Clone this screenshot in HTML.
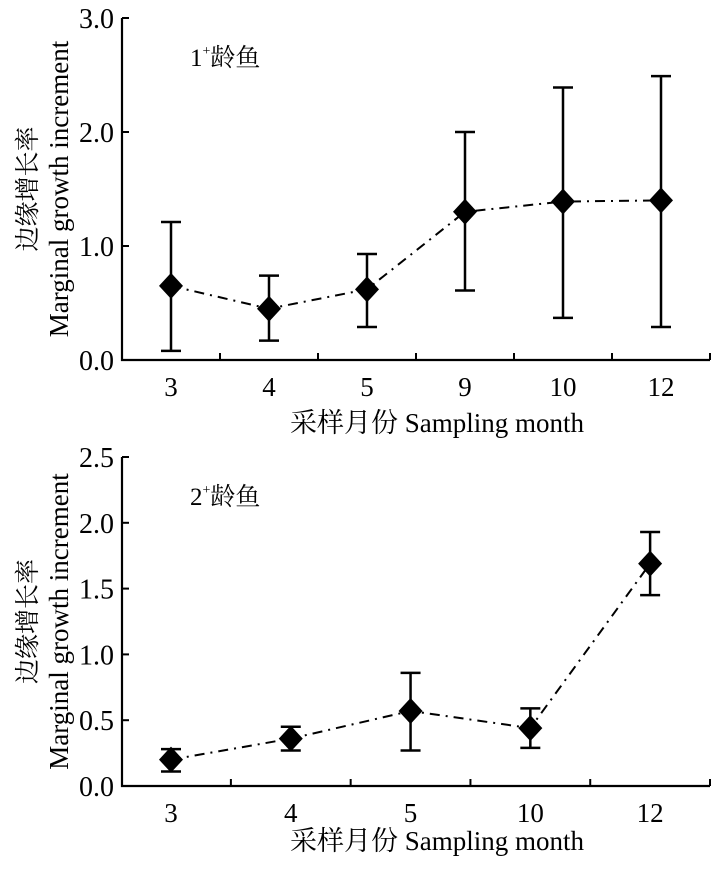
<!DOCTYPE html>
<html><head><meta charset="utf-8">
<style>
body{margin:0;background:#fff;}
svg text{font-family:"Liberation Serif","Noto Serif CJK SC",serif;fill:#000;}
</style></head>
<body>
<svg id="chart" width="720" height="864" xmlns="http://www.w3.org/2000/svg"></svg>
<script>
const cats1 = ["3","4","5","9","10","12"];
const means1 = [0.65,0.45,0.62,1.30,1.39,1.40];
const lows1 = [0.08,0.17,0.29,0.61,0.37,0.29];
const highs1 = [1.21,0.74,0.93,2.00,2.39,2.49];
const yTicks1 = ["0.0","1.0","2.0","3.0"];
const cats2 = ["3","4","5","10","12"];
const means2 = [0.20,0.36,0.57,0.44,1.69];
const lows2 = [0.11,0.27,0.27,0.29,1.45];
const highs2 = [0.28,0.45,0.86,0.59,1.93];
const yTicks2 = ["0.0","0.5","1.0","1.5","2.0","2.5"];

const svg = document.getElementById('chart');
const NS = 'http://www.w3.org/2000/svg';
function mk(tag, attrs, parent){const e=document.createElementNS(NS,tag);for(const k in attrs)e.setAttribute(k,attrs[k]);(parent||svg).appendChild(e);return e;}

function panel(id, cats, means, lows, highs, yTicks, ymax, top, bottom, label, titleOff){
  const g = mk('g',{});
  
  
  const x0=122, x1=710;
  const first=49;
  const step=(x1-x0-first)/(cats.length-0.5);
  const xs=i=>x0+first+step*i;
  const ys=v=>bottom-(v/ymax)*(bottom-top);
  const ax = mk('path',{d:`M${x0} ${top}V${bottom}H${x1}`,stroke:'#000','stroke-width':2.2,fill:'none'},g);
  
  
  yTicks.forEach(t=>{
    const y=ys(parseFloat(t));
    mk('line',{x1:x0,x2:x0+7,y1:y,y2:y,stroke:'#000','stroke-width':2},g);
    const tx=mk('text',{x:x0-8,y:y+10,'text-anchor':'end','font-size':28},g);
    tx.textContent=t;
    
    
  });
  cats.forEach((c,i)=>{
    const xt=xs(i)+step/2;
    mk('line',{x1:xt,x2:xt,y1:bottom,y2:bottom-7,stroke:'#000','stroke-width':2},g);
    const tx=mk('text',{x:xs(i),y:bottom+36,'text-anchor':'middle','font-size':27},g);
    tx.textContent=c;
    
    
  });
  const pts=means.map((m,i)=>`${xs(i)},${ys(m)}`).join(' ');
  const ln=mk('polyline',{points:pts,fill:'none',stroke:'#000','stroke-width':2,'stroke-dasharray':'10 6 2 6'},g);
  
  
  means.forEach((m,i)=>{
    const x=xs(i),yl=ys(lows[i]),yh=ys(highs[i]);
    const eb=mk('path',{d:`M${x} ${yl}V${yh}M${x-10} ${yl}H${x+10}M${x-10} ${yh}H${x+10}`,stroke:'#000','stroke-width':2.5,fill:'none'},g);
    
    
    const y=ys(m);
    const d=mk('polygon',{points:`${x},${y-13} ${x+12},${y} ${x},${y+13} ${x-12},${y}`,fill:'#000'},g);
    
    
  });
  const lb=mk('text',{x:190,y:top+48,'font-size':25},g);
  lb.innerHTML=label.n+'<tspan font-size="14" dy="-11">+</tspan><tspan dy="11">龄鱼</tspan>';
  
  
  const xt=mk('text',{x:437,y:bottom+titleOff,'text-anchor':'middle','font-size':27},g);
  xt.textContent='采样月份 Sampling month';
  
  
  const cy=(top+bottom)/2;
  const yt=mk('text',{transform:`translate(36 ${cy}) rotate(-90)`,'text-anchor':'middle','font-size':25},g);
  yt.textContent='边缘增长率';
  
  
  const yt2=mk('text',{transform:`translate(68 ${cy}) rotate(-90)`,'text-anchor':'middle','font-size':27},g);
  yt2.textContent='Marginal growth increment';
  
  
}
panel('panel-age1',cats1,means1,lows1,highs1,yTicks1,3.0,18,360,{n:'1'},72);
panel('panel-age2',cats2,means2,lows2,highs2,yTicks2,2.5,457,786,{n:'2'},64);
</script>
</body></html>
